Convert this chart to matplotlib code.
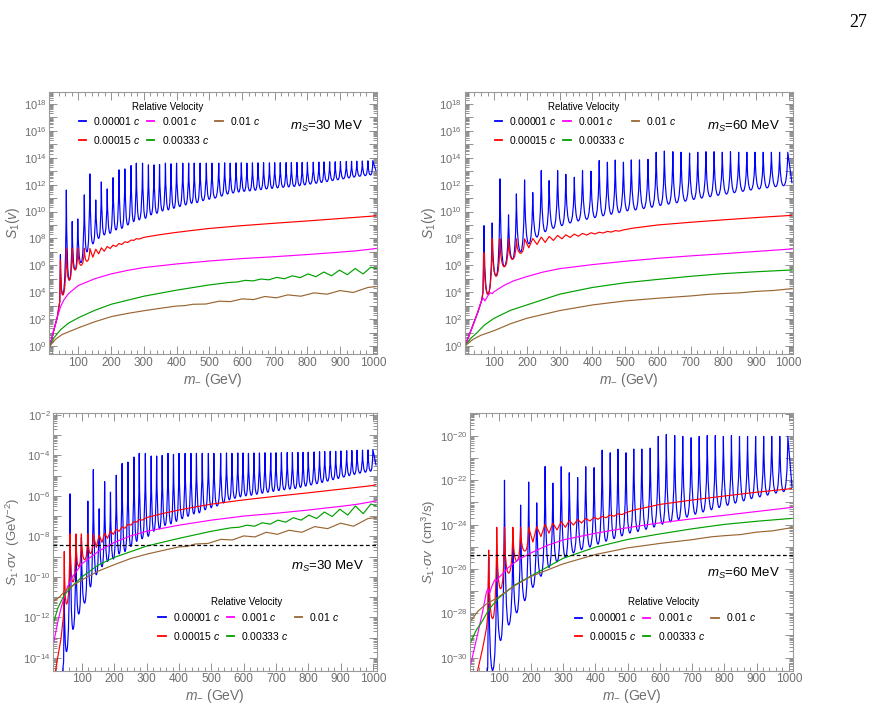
import numpy as np
import matplotlib
matplotlib.use('Agg')
import matplotlib.pyplot as plt
from matplotlib.ticker import FixedLocator, FuncFormatter, MultipleLocator
from matplotlib.path import Path
from matplotlib.patches import PathPatch
from matplotlib.lines import Line2D

plt.rcParams['font.family'] = ['Liberation Sans', 'DejaVu Sans']
plt.rcParams['mathtext.fontset'] = 'custom'
plt.rcParams['mathtext.rm'] = 'Liberation Sans'
plt.rcParams['mathtext.it'] = 'Liberation Sans:italic'
plt.rcParams['mathtext.bf'] = 'Liberation Sans:bold'

# ---------------- data (log10 of the plotted quantity) ----------------
vel_labels = ['0.00001 $c$', '0.00015 $c$', '0.001 $c$', '0.00333 $c$', '0.01 $c$']

# m_S = 30 MeV, v = 0.00001c : resonance peaks / troughs
m_res30 = [13, 24, 35, 43,
           45, 52, 63, 72, 81, 90, 98, 108, 118, 126,
           135, 144, 153, 162, 170, 179, 188, 197, 206, 215,
           224, 233, 242, 251, 261, 269, 277, 286, 296, 305,
           314, 322, 331, 340, 348, 357, 366, 375, 383, 392,
           400, 410, 419, 428, 437, 446, 454, 463, 472, 481,
           491, 500, 508, 518, 529, 538, 547, 556, 564, 573,
           582, 590, 598, 607, 615, 624, 632, 641, 649, 658,
           666, 675, 684, 692, 700, 709, 717, 726, 735, 743,
           751, 760, 768, 776, 784, 792, 800, 809, 818, 827,
           835, 843, 851, 860, 868, 877, 885, 893, 901, 910,
           919, 927, 935, 943, 951, 960, 968, 977, 985, 993,
           1000, 1010]
S_blue30 = [0.0, 1.1, 2.1, 3.3,
            6.8, 3.8, 11.6, 4.9, 9.25, 5.66, 9.45, 6.2, 11.24, 7.0,
            12.8, 7.6, 10.86, 8.0, 12.2, 8.26, 11.68, 8.38, 12.52, 8.63,
            13.1, 8.75, 13.17, 9.0, 13.42, 9.25, 13.6, 9.38, 13.6, 9.5,
            13.47, 9.75, 13.47, 9.87, 13.5, 10.04, 13.6, 10.12, 13.55, 10.24,
            13.6, 10.37, 13.6, 10.49, 13.6, 10.61, 13.6, 10.66, 13.6, 10.81,
            13.6, 10.91, 13.6, 11.0, 13.6, 11.15, 13.62, 11.3, 13.6, 11.38,
            13.62, 11.45, 13.62, 11.5, 13.6, 11.53, 13.62, 11.58, 13.62, 11.63,
            13.63, 11.68, 13.62, 11.72, 13.63, 11.76, 13.63, 11.8, 13.64, 11.83,
            13.64, 11.86, 13.65, 11.92, 13.65, 11.98, 13.66, 12.04, 13.67, 12.1,
            13.68, 12.16, 13.69, 12.23, 13.7, 12.3, 13.7, 12.36, 13.72, 12.43,
            13.73, 12.5, 13.74, 12.56, 13.75, 12.62, 13.76, 12.67, 13.77, 12.72,
            13.79, 13.0]
Ssv_blue30 = [-17.5, -16.4, -15.4, -14.2,
              -10.7, -13.7, -5.9, -12.6, -8.25, -11.84, -8.05, -11.3, -6.26, -10.5,
              -4.7, -9.9, -6.64, -9.5, -5.3, -9.24, -5.82, -9.12, -4.98, -8.87,
              -4.4, -8.75, -4.33, -8.5, -4.08, -8.25, -3.9, -8.12, -3.9, -8.0,
              -4.03, -7.75, -4.03, -7.63, -4.0, -7.46, -3.9, -7.38, -3.95, -7.26,
              -3.9, -7.13, -3.9, -7.01, -3.9, -6.89, -3.9, -6.84, -3.9, -6.69,
              -3.9, -6.59, -3.9, -6.5, -3.9, -6.35, -3.88, -6.2, -3.9, -6.12,
              -3.88, -6.05, -3.88, -6.0, -3.9, -5.97, -3.88, -5.92, -3.88, -5.87,
              -3.87, -5.82, -3.88, -5.78, -3.87, -5.74, -3.87, -5.7, -3.86, -5.67,
              -3.86, -5.64, -3.85, -5.58, -3.85, -5.52, -3.84, -5.46, -3.83, -5.4,
              -3.82, -5.34, -3.81, -5.27, -3.8, -5.2, -3.8, -5.14, -3.78, -5.07,
              -3.77, -5.0, -3.76, -4.94, -3.75, -4.88, -3.74, -4.83, -3.73, -4.78,
              -3.71, -4.5]

m_red30 = [13, 24, 35, 43, 45, 52, 63, 72, 81, 90,
           98, 108, 118, 126, 135, 144, 153, 162, 170, 179,
           188, 197, 206, 215, 224, 233, 242, 251, 261, 269,
           277, 286, 300, 350, 400, 450, 500, 600, 700, 800,
           900, 1000, 1010]
S_red30 = [0.0, 1.1, 2.1, 3.3, 6.4, 3.8, 7.27, 4.9, 7.27, 5.66,
           7.27, 6.0, 7.27, 6.3, 7.25, 6.6, 7.2, 6.85, 7.3, 7.05,
           7.4, 7.25, 7.5, 7.4, 7.62, 7.55, 7.75, 7.7, 7.88, 7.85,
           7.98, 7.95, 8.08, 8.28, 8.45, 8.6, 8.74, 8.95, 9.13, 9.3,
           9.48, 9.66, 9.7]
Ssv_red30 = [-15.15, -14.05, -13.05, -11.85, -8.75, -11.35, -7.88, -10.25, -7.88, -9.49,
             -7.88, -9.15, -7.88, -8.85, -7.9, -8.55, -7.95, -8.3, -7.85, -8.1,
             -7.75, -7.9, -7.65, -7.75, -7.53, -7.6, -7.4, -7.45, -7.27, -7.3,
             -7.17, -7.2, -7.07, -6.87, -6.7, -6.55, -6.41, -6.2, -6.02, -5.85,
             -5.67, -5.49, -5.45]

m_mag30 = [13, 24, 35, 45, 55, 70, 100, 150, 200, 250,
           300, 400, 500, 600, 700, 800, 900, 950, 1000, 1010]
S_mag30 = [0.0, 1.1, 2.1, 2.9, 3.4, 3.9, 4.5, 5.0, 5.36, 5.62,
           5.83, 6.1, 6.32, 6.5, 6.64, 6.8, 6.98, 7.08, 7.22, 7.25]
Ssv_mag30 = [-13.2, -12.3, -11.55, -11.0, -10.5, -10.0, -9.35, -8.75, -8.3, -7.98,
             -7.75, -7.45, -7.2, -7.0, -6.86, -6.7, -6.52, -6.42, -6.28, -6.25]

m_grn30 = [13, 25, 45, 70, 100, 150, 200, 300, 400, 500,
           560, 586, 610, 634, 658, 682, 706, 730, 754, 778,
           802, 826, 850, 874, 898, 922, 946, 970, 994, 1010]
S_grn30 = [0.0, 0.6, 1.2, 1.7, 2.1, 2.65, 3.1, 3.7, 4.15, 4.54,
           4.72, 4.76, 4.88, 4.84, 4.98, 4.92, 5.1, 5.0, 5.22, 5.08,
           5.36, 5.15, 5.5, 5.22, 5.64, 5.3, 5.76, 5.36, 5.86, 5.75]
Ssv_grn30 = [-12.2, -11.55, -10.9, -10.45, -10.0, -9.42, -9.04, -8.48, -8.1, -7.75,
             -7.58, -7.55, -7.45, -7.5, -7.33, -7.4, -7.2, -7.3, -7.08, -7.2,
             -6.95, -7.12, -6.8, -7.02, -6.66, -6.95, -6.5, -6.88, -6.4, -6.5]

m_brn30 = [13, 30, 50, 100, 150, 200, 250, 300, 350, 400,
           425, 450, 490, 530, 565, 600, 635, 670, 705, 740,
           780, 820, 860, 900, 940, 985, 1010]
S_brn30 = [0.0, 0.5, 0.85, 1.35, 1.8, 2.18, 2.42, 2.62, 2.8, 2.97,
           3.0, 3.1, 3.12, 3.33, 3.3, 3.5, 3.45, 3.68, 3.58, 3.8,
           3.7, 3.95, 3.85, 4.12, 3.98, 4.35, 4.42]
Ssv_brn30 = [-11.2, -11.0, -10.65, -10.15, -9.72, -9.4, -9.1, -8.88, -8.7, -8.52,
             -8.5, -8.38, -8.35, -8.15, -8.18, -7.98, -8.03, -7.8, -7.9, -7.7,
             -7.8, -7.52, -7.62, -7.35, -7.5, -7.12, -7.08]

# m_S = 60 MeV
m_res60 = [11, 30, 50, 62, 66,
           69, 81, 94, 106, 118, 131, 144, 156, 168, 181,
           193, 206, 218, 231, 244, 256, 268, 281, 294, 307,
           319, 332, 345, 357, 370, 383, 396, 408, 421, 433,
           446, 458, 470, 482, 495, 507, 519, 532, 544, 557,
           570, 582, 595, 608, 620, 633, 646, 658, 671, 684,
           697, 710, 722, 734, 747, 760, 772, 784, 797, 810,
           822, 834, 847, 860, 872, 884, 897, 910, 922, 934,
           947, 960, 972, 984, 997, 1010]
S_blue60 = [0.0, 1.2, 2.5, 3.4, 4.0,
            8.95, 3.85, 9.15, 5.2, 12.43, 5.9, 9.75, 6.45, 11.31, 7.0,
            12.35, 7.6, 11.41, 8.1, 13.05, 8.5, 12.3, 8.75, 13.04, 8.95,
            12.77, 9.15, 12.55, 9.3, 13.04, 9.42, 13.0, 9.55, 13.79, 9.68,
            13.67, 9.8, 13.83, 9.92, 13.67, 10.05, 13.84, 10.12, 13.84, 10.22,
            13.88, 10.32, 14.41, 10.45, 14.5, 10.55, 14.45, 10.65, 14.41, 10.77,
            14.35, 10.9, 14.41, 11.0, 14.45, 11.1, 14.45, 11.2, 14.41, 11.3,
            14.45, 11.4, 14.41, 11.5, 14.41, 11.6, 14.41, 11.68, 14.41, 11.76,
            14.41, 11.85, 14.41, 11.92, 14.41, 12.1]
Ssv_blue60 = [-34.43, -33.23, -31.93, -31.03, -30.43,
              -25.48, -30.58, -25.28, -29.23, -22.0, -28.53, -24.68, -27.98, -23.12, -27.43,
              -22.08, -26.83, -23.02, -26.33, -21.38, -25.93, -22.13, -25.68, -21.39, -25.48,
              -21.66, -25.28, -21.88, -25.13, -21.39, -25.01, -21.43, -24.88, -20.64, -24.75,
              -20.76, -24.63, -20.6, -24.51, -20.76, -24.38, -20.59, -24.31, -20.59, -24.21,
              -20.55, -24.11, -20.02, -23.98, -19.93, -23.88, -19.98, -23.78, -20.02, -23.66,
              -20.08, -23.53, -20.02, -23.43, -19.98, -23.33, -19.98, -23.23, -20.02, -23.13,
              -19.98, -23.03, -20.02, -22.93, -20.02, -22.83, -20.02, -22.75, -20.02, -22.67,
              -20.02, -22.58, -20.02, -22.51, -20.02, -22.33]

m_red60 = [11, 30, 50, 62, 66, 69, 81, 94, 106, 118,
           131, 144, 156, 168, 181, 193, 206, 218, 231, 244,
           256, 268, 281, 294, 307, 319, 332, 345, 357, 370,
           383, 396, 408, 421, 433, 446, 458, 470, 482, 495,
           520, 600, 700, 800, 900, 1000, 1010]
S_red60 = [0.0, 1.2, 2.5, 3.4, 4.0, 6.94, 3.85, 7.97, 5.2, 7.97,
           5.9, 7.97, 6.45, 7.97, 6.9, 7.97, 7.3, 8.0, 7.55, 8.1,
           7.7, 8.15, 7.85, 8.22, 7.97, 8.27, 8.07, 8.32, 8.16, 8.37,
           8.25, 8.42, 8.33, 8.46, 8.4, 8.52, 8.47, 8.58, 8.54, 8.63,
           8.75, 9.0, 9.2, 9.38, 9.55, 9.7, 9.72]
Ssv_red60 = [-32.09, -30.89, -29.59, -28.69, -28.09, -25.15, -28.24, -24.12, -26.89, -24.12,
             -26.19, -24.12, -25.64, -24.12, -25.19, -24.12, -24.79, -24.09, -24.54, -23.99,
             -24.39, -23.94, -24.24, -23.87, -24.12, -23.82, -24.02, -23.77, -23.93, -23.72,
             -23.84, -23.67, -23.76, -23.63, -23.69, -23.57, -23.62, -23.51, -23.55, -23.46,
             -23.34, -23.09, -22.89, -22.71, -22.54, -22.39, -22.37]

m_mag60 = [11, 30, 50, 62, 67, 72, 80, 88, 95, 100,
           130, 160, 200, 250, 300, 400, 500, 600, 700, 800,
           900, 1000, 1010]
S_mag60 = [0.0, 1.2, 2.5, 3.4, 3.55, 3.35, 3.7, 3.95, 3.9, 4.04,
           4.5, 4.85, 5.16, 5.5, 5.75, 6.05, 6.3, 6.52, 6.7, 6.86,
           7.03, 7.2, 7.22]
Ssv_mag60 = [-30.44, -29.24, -27.94, -27.04, -26.89, -27.09, -26.74, -26.49, -26.54, -26.4,
             -25.94, -25.59, -25.28, -24.94, -24.69, -24.39, -24.14, -23.92, -23.74, -23.58,
             -23.41, -23.24, -23.22]

m_grn60 = [11, 30, 46, 70, 100, 150, 200, 300, 400, 500,
           600, 700, 800, 900, 1000, 1010]
S_grn60 = [0.0, 0.6, 0.94, 1.55, 2.06, 2.65, 3.05, 3.85, 4.35, 4.7,
           4.95, 5.18, 5.38, 5.52, 5.64, 5.65]
Ssv_grn60 = [-29.37, -28.77, -28.43, -27.82, -27.31, -26.72, -26.32, -25.52, -25.02, -24.67,
             -24.42, -24.19, -23.99, -23.85, -23.73, -23.72]

m_brn60 = [11, 36, 60, 100, 150, 200, 300, 400, 500, 600,
           700, 760, 800, 850, 900, 950, 1000, 1010]
S_brn60 = [0.0, 0.5, 0.8, 1.14, 1.65, 2.06, 2.63, 3.05, 3.35, 3.55,
           3.72, 3.85, 3.9, 3.95, 4.06, 4.12, 4.24, 4.25]
Ssv_brn60 = [-28.4, -27.9, -27.6, -27.26, -26.75, -26.34, -25.77, -25.35, -25.05, -24.85,
             -24.68, -24.55, -24.5, -24.45, -24.34, -24.28, -24.16, -24.15]

relic_gev = 3.7e-9    # GeV^-2
relic_cm = 4.3e-26    # cm^3/s

# ---------------- styling ----------------
line_colors = ['#0000ff', '#ff0000', '#ff00ff', '#00a000', '#996633']
frame_col = '#9a9a9a'
tick_col = '#808080'
label_col = '#6e6e6e'

fig = plt.figure(figsize=(8.79, 7.11), dpi=100)


def exp_fmt(val, pos):
    e = int(round(np.log10(val)))
    return r'$10^{%d}$' % e if e % 2 == 0 else ''


def make_panel(rect, ylo, yhi, ylabel, ylab_x, ylab_size=10):
    ax = fig.add_axes(rect)
    ax.set_yscale('log')
    ax.set_xlim(11, 1012)
    ax.set_ylim(10.0 ** ylo, 10.0 ** yhi)
    k0, k1 = int(np.floor(ylo)), int(np.ceil(yhi))
    ax.yaxis.set_major_locator(FixedLocator([10.0 ** k for k in range(k0, k1 + 1)]))
    ax.yaxis.set_minor_locator(FixedLocator([s * 10.0 ** k for k in range(k0, k1 + 1)
                                             for s in range(2, 10)]))
    ax.yaxis.set_major_formatter(FuncFormatter(exp_fmt))
    ax.xaxis.set_major_locator(FixedLocator(range(100, 1001, 100)))
    ax.xaxis.set_minor_locator(MultipleLocator(20))
    ax.tick_params(which='both', direction='in', top=True, right=True,
                   color=tick_col, labelcolor=label_col, width=0.6)
    ax.tick_params(axis='x', labelsize=8.5)
    ax.tick_params(axis='y', labelsize=8)
    ax.tick_params(which='major', length=6, pad=2)
    ax.tick_params(which='minor', length=3)
    for sp in ax.spines.values():
        sp.set_color(frame_col)
        sp.set_linewidth(0.8)
    ax.set_xlabel(r'$m_{-}$ (GeV)', fontsize=10, color=label_col)
    ax.xaxis.set_label_coords(0.5, -0.062)
    ax.set_ylabel(ylabel, fontsize=ylab_size, color=label_col)
    ax.yaxis.set_label_coords(ylab_x, 0.5)
    return ax


def resonance_path(mx, lv, min_span=0.8, k=0.15):
    # peaks and troughs joined by quadratic curves: sharp spikes, round troughs
    n = len(mx)
    ys = [10.0 ** v for v in lv]

    def kind(i):
        if 0 < i < n - 1:
            if lv[i] > lv[i - 1] and lv[i] > lv[i + 1]:
                return 'p'
            if lv[i] < lv[i - 1] and lv[i] < lv[i + 1]:
                return 't'
        return ''

    verts = [(mx[0], ys[0])]
    codes = [Path.MOVETO]
    for b in range(1, n):
        a = b - 1
        ka, kb = kind(a), kind(b)
        if abs(lv[b] - lv[a]) >= min_span and {ka, kb} == {'p', 't'}:
            pk, tr = (a, b) if ka == 'p' else (b, a)
            verts += [(mx[pk] + k * (mx[tr] - mx[pk]), ys[tr]), (mx[b], ys[b])]
            codes += [Path.CURVE3, Path.CURVE3]
        else:
            verts.append((mx[b], ys[b]))
            codes.append(Path.LINETO)
    return Path(verts, codes)


def draw(ax, series):
    for i, ((mx, vals), col) in enumerate(zip(series, line_colors)):
        if i < 2:
            ax.add_patch(PathPatch(resonance_path(mx, vals), fill=False, edgecolor=col,
                                   lw=0.85, joinstyle='round', capstyle='butt', zorder=2))
        else:
            ax.plot(mx, 10.0 ** np.asarray(vals), color=col, lw=0.85, zorder=2)
    return [Line2D([], [], color=c, lw=1.3) for c in line_colors]


def add_legend(ax, handles, title_xy, top_y):
    ax.text(title_xy[0], title_xy[1], 'Relative Velocity', transform=ax.transAxes,
            ha='center', va='center', fontsize=7)
    leg = ax.legend(handles, vel_labels, ncol=3, loc='upper center',
                    bbox_to_anchor=(title_xy[0] + 0.007, top_y), frameon=False,
                    fontsize=7.5, handlelength=0.7, handletextpad=0.7,
                    columnspacing=0.6, labelspacing=0.65, borderpad=0.2)
    return leg


# top left
ax1 = make_panel([0.0561, 0.5017, 0.3725, 0.3685], -0.62, 18.87, r'$S_1(v)$', -0.083)
h = draw(ax1, [(m_res30, S_blue30), (m_red30, S_red30), (m_mag30, S_mag30),
               (m_grn30, S_grn30), (m_brn30, S_brn30)])
add_legend(ax1, h, (0.36, 0.945), 0.941)
ax1.text(0.847, 0.869, r'$m_S$=30 MeV', transform=ax1.transAxes, ha='center',
         va='center', fontsize=9.5)

# top right
ax2 = make_panel([0.529, 0.5017, 0.3728, 0.3685], -0.62, 18.87, r'$S_1(v)$', -0.082)
h = draw(ax2, [(m_res60, S_blue60), (m_red60, S_red60), (m_mag60, S_mag60),
               (m_grn60, S_grn60), (m_brn60, S_brn60)])
add_legend(ax2, h, (0.361, 0.945), 0.941)
ax2.text(0.849, 0.869, r'$m_S$=60 MeV', transform=ax2.transAxes, ha='center',
         va='center', fontsize=9.5)

# bottom left
ax3 = make_panel([0.0606, 0.0567, 0.368, 0.362], -14.64, -1.92,
                 r'$S_1\!\cdot\!\sigma v$  (GeV$^{-2}$)', -0.097, 9.5)
h = draw(ax3, [(m_res30, Ssv_blue30), (m_red30, Ssv_red30), (m_mag30, Ssv_mag30),
               (m_grn30, Ssv_grn30), (m_brn30, Ssv_brn30)])
ax3.axhline(relic_gev, color='k', lw=0.9, ls=(0, (3, 2)), zorder=3)
add_legend(ax3, h, (0.598, 0.268), 0.26)
ax3.text(0.848, 0.404, r'$m_S$=30 MeV', transform=ax3.transAxes, ha='center',
         va='center', fontsize=9.5)

# bottom right
ax4 = make_panel([0.5347, 0.0567, 0.3671, 0.3629], -30.59, -18.95,
                 r'$S_1\!\cdot\!\sigma v$  (cm$^3$/s)', -0.1, 9.5)
h = draw(ax4, [(m_res60, Ssv_blue60), (m_red60, Ssv_red60), (m_mag60, Ssv_mag60),
               (m_grn60, Ssv_grn60), (m_brn60, Ssv_brn60)])
ax4.axhline(relic_cm, color='k', lw=0.9, ls=(0, (3, 2)), zorder=3)
add_legend(ax4, h, (0.599, 0.267), 0.259)
ax4.text(0.849, 0.378, r'$m_S$=60 MeV', transform=ax4.transAxes, ha='center',
         va='center', fontsize=9.5)

fig.text(0.987, 0.969, '27', ha='right', va='center', fontsize=13,
         family='Liberation Serif')

fig.savefig('out.png', dpi=100)
